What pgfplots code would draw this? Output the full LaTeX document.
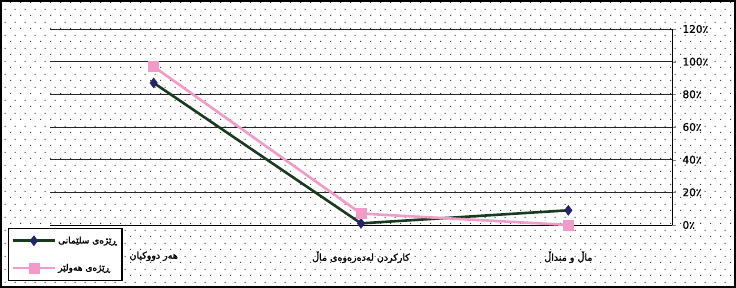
\documentclass[border=0pt]{standalone}
\usepackage{fontspec}
\setmainfont{DejaVu Sans}
\newfontfamily\arabicfont[Script=Arabic, FakeBold=1.6]{DejaVu Sans}
\newfontfamily\numfont[FakeBold=0.8]{DejaVu Sans}
\TeXXeTstate=1
\usepackage{pgfplots}
\pgfplotsset{compat=1.18}
\usetikzlibrary{patterns}
\definecolor{sulgreen}{RGB}{24,58,30}
\definecolor{navymark}{RGB}{36,36,104}
\definecolor{erbpink}{RGB}{242,154,200}
\pgfdeclarepatternformonly{exceldots}{\pgfpointorigin}{\pgfpoint{9.5bp}{13bp}}{\pgfpoint{9.5bp}{13bp}}{%
  \pgfpathrectangle{\pgfpoint{0bp}{0bp}}{\pgfpoint{1.1bp}{1.1bp}}%
  \pgfpathrectangle{\pgfpoint{4.75bp}{6.5bp}}{\pgfpoint{1.1bp}{1.1bp}}%
  \pgfusepath{fill}}
\begin{document}
\begin{tikzpicture}
\useasboundingbox (0,0) rectangle (736bp,288bp);
\fill[white] (0,0) rectangle (736bp,288bp);
\fill[pattern=exceldots, pattern color=black!75] (0,0) rectangle (736bp,288bp);
\begin{axis}[
  at={(50bp,63bp)}, anchor=south west,
  scale only axis, width=622bp, height=196bp,
  xmin=-0.5, xmax=2.5, ymin=0, ymax=120,
  axis x line*=bottom, axis y line*=right,
  axis line style={-, black, line width=1pt},
  tick align=outside,
  ytick={0,20,...,120},
  ymajorgrids, grid style={black!85, line width=0.9pt},
  major tick length=4bp,
  /pgf/number format/assume math mode=true,
  yticklabel={\numfont\pgfmathprintnumber{\tick}{\arabicfont ٪}},
  yticklabel style={font=\fontsize{10.5bp}{12bp}\selectfont, xshift=3bp},
  xtick={0,1,2},
  xticklabels={%
    {\arabicfont\beginR هەر دووکیان\endR},
    {\arabicfont\beginR کارکردن لەدەرەوەی ماڵ\endR},
    {\arabicfont\beginR ماڵ و منداڵ\endR}},
  x tick label style={font=\fontsize{9.5bp}{11bp}\selectfont, yshift=-19bp},
  xtick style={draw=none},
  extra x ticks={-0.5,0.5,1.5,2.5},
  extra x tick labels={},
  extra x tick style={tick style={draw=black, line width=0.8pt}, major tick length=5bp, grid=none},
  legend style={at={(-0.0675,-0.0153)}, anchor=north west, draw=black, line width=1.2pt,
    fill=white, font=\fontsize{9bp}{11bp}\selectfont, row sep=15bp, inner xsep=3bp, inner ysep=6bp,
    /tikz/every even column/.append style={column sep=1bp}},
  legend cell align=left,
  legend image code/.code={%
    \draw[mark repeat=2, mark phase=2, #1] plot coordinates {(0bp,0bp) (21bp,0bp) (42bp,0bp)};},
  clip=false,
]
\addplot[sulgreen, line width=2.6pt, mark=diamond*, mark size=5bp,
  mark options={fill=navymark, draw=navymark, line width=0.5pt}]
  coordinates {(0,87) (1,1) (2,9)};
\addlegendentry{\arabicfont\beginR ڕێژەی سلێمانی\endR}
\addplot[erbpink, line width=2.6pt, mark=square*, mark size=5bp,
  mark options={fill=erbpink, draw=erbpink, line width=0.5pt}]
  coordinates {(0,97) (1,7) (2,0)};
\addlegendentry{\arabicfont\beginR ڕێژەی هەولێر\endR}
\end{axis}
\draw[black, line width=2bp] (1bp,1bp) rectangle (735bp,287bp);
\end{tikzpicture}
\end{document}
